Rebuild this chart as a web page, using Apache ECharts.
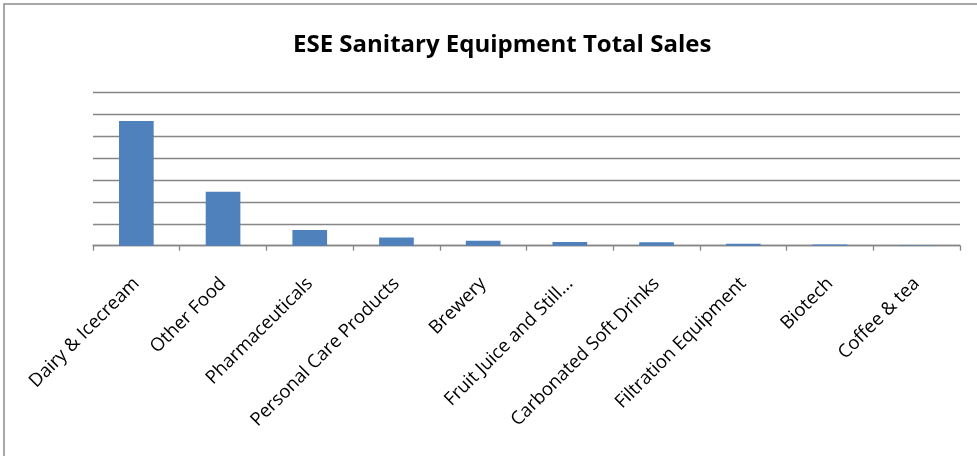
<!DOCTYPE html>
<html>
<head>
<meta charset="utf-8">
<script src="https://cdn.jsdelivr.net/npm/echarts@6/dist/echarts.min.js"></script>
<style>
  html, body { margin: 0; padding: 0; background: #ffffff; }
  #chart { width: 977px; height: 456px; }
</style>
</head>
<body>
<div id="chart"></div>
<script>
// Sales by industry segment
const categories = [
  'Dairy & Icecream', 'Other Food', 'Pharmaceuticals', 'Personal Care Products',
  'Brewery', 'Fruit Juice and Still...', 'Carbonated Soft Drinks',
  'Filtration Equipment', 'Biotech', 'Coffee & tea'
];
const totalSales = [5.71, 2.47, 0.72, 0.38, 0.23, 0.17, 0.155, 0.09, 0.05, 0.02];
const chartTitle = 'ESE Sanitary Equipment Total Sales';

const chart = echarts.init(document.getElementById('chart'), null, { renderer: 'canvas' });
chart.setOption({
  animation: false,
  backgroundColor: '#ffffff',
  title: {
    text: chartTitle,
    left: 288,
    top: 28,
    textStyle: { fontFamily: 'Open Sans', fontWeight: 'bold', fontSize: 24, color: '#000000' }
  },
  // chart-area frame; runs off the right and bottom edges of the page
  graphic: [{
    type: 'rect',
    shape: { x: 4, y: 4, width: 990, height: 470 },
    style: { fill: 'none', stroke: '#8c8c8c', lineWidth: 1.5 },
    silent: true
  }],
  grid: { left: 93, right: 17, top: 92.7, bottom: 210.3 },
  xAxis: {
    type: 'category',
    data: categories,
    axisLine: { lineStyle: { color: '#868686', width: 1.3 } },
    axisTick: { show: true, alignWithLabel: false, length: 5, lineStyle: { color: '#868686', width: 1.3 } },
    axisLabel: {
      rotate: 45,
      interval: 0,
      margin: 35,
      fontFamily: 'Open Sans',
      fontSize: 18.5,
      color: '#000000'
    }
  },
  yAxis: {
    type: 'value',
    min: 0,
    max: 7,
    interval: 1,
    axisLabel: { show: false },
    axisLine: { show: false },
    axisTick: { show: false },
    splitLine: { lineStyle: { color: '#868686', width: 1.3 } }
  },
  series: [{
    type: 'bar',
    data: totalSales,
    barWidth: '40%',
    itemStyle: { color: '#4f81bd' }
  }]
});
</script>
</body>
</html>
